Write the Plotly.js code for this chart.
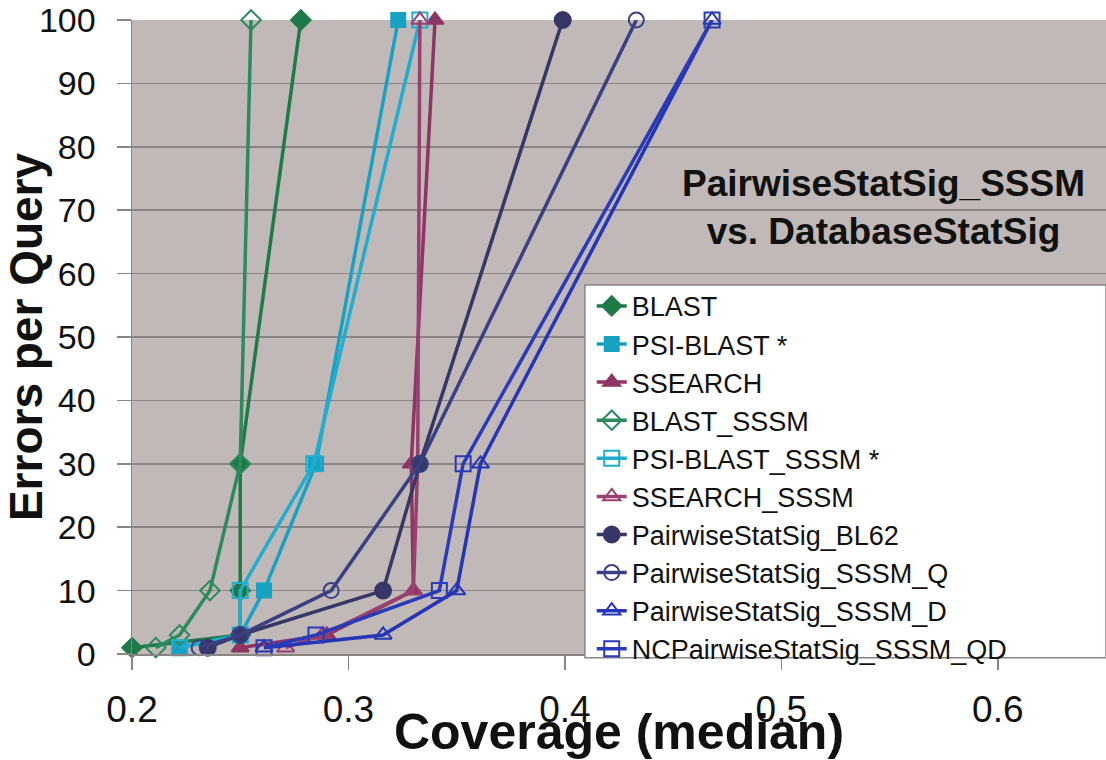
<!DOCTYPE html>
<html>
<head>
<meta charset="utf-8">
<script src="https://cdn.plot.ly/plotly-3.0.1.min.js"></script>
<style>
  html, body { margin: 0; padding: 0; background: #ffffff; }
  #chart { width: 1106px; height: 760px; }
</style>
</head>
<body>
<div id="chart"></div>
<script>
// Errors per query levels (y values shared by all series)
const errorsPerQuery = [1, 3, 10, 30, 100];

// Coverage (median) for each method, one value per error level
const blast            = [0.200, 0.250, 0.250, 0.250, 0.278];
const psiBlast         = [0.222, 0.250, 0.261, 0.285, 0.323];
const ssearch          = [0.250, 0.290, 0.330, 0.329, 0.340];
const blastSSSM        = [0.211, 0.222, 0.236, 0.250, 0.255];
const psiBlastSSSM     = [0.222, 0.250, 0.250, 0.284, 0.333];
const ssearchSSSM      = [0.271, 0.288, 0.330, 0.332, 0.333];
const pssBL62          = [0.235, 0.250, 0.316, 0.333, 0.399];
const pssSSSM_Q        = [0.231, 0.250, 0.292, 0.333, 0.433];
const pssSSSM_D        = [0.261, 0.316, 0.350, 0.361, 0.468];
const ncPssSSSM_QD     = [0.261, 0.285, 0.342, 0.353, 0.468];

const seriesNames = [
  "BLAST", "PSI-BLAST *", "SSEARCH", "BLAST_SSSM", "PSI-BLAST_SSSM *",
  "SSEARCH_SSSM", "PairwiseStatSig_BL62", "PairwiseStatSig_SSSM_Q",
  "PairwiseStatSig_SSSM_D", "NCPairwiseStatSig_SSSM_QD"
];

const xTickVals = [0.2, 0.3, 0.4, 0.5, 0.6];
const xTickText = ["0.2", "0.3", "0.4", "0.5", "0.6"];
const yTickVals = [0, 10, 20, 30, 40, 50, 60, 70, 80, 90, 100];
const yTickText = ["0", "10", "20", "30", "40", "50", "60", "70", "80", "90", "100"];

const chartTitle = "PairwiseStatSig_SSSM<br>vs. DatabaseStatSig";

const seriesData = [blast, psiBlast, ssearch, blastSSSM, psiBlastSSSM,
                    ssearchSSSM, pssBL62, pssSSSM_Q, pssSSSM_D, ncPssSSSM_QD];

const styles = [
  {color: "#1f7a4a", symbol: "diamond", size: 15},
  {color: "#17a2c4", symbol: "square", size: 14},
  {color: "#8e3563", symbol: "triangle-up", size: 15},
  {color: "#2b8a5e", symbol: "diamond-open", size: 15},
  {color: "#1fadd0", symbol: "square-open", size: 15},
  {color: "#9a4070", symbol: "triangle-up-open", size: 15},
  {color: "#363766", symbol: "circle", size: 16},
  {color: "#3b4082", symbol: "circle-open", size: 15},
  {color: "#2535b5", symbol: "triangle-up-open", size: 15},
  {color: "#2a3ab8", symbol: "square-open", size: 15}
];

const FONT = "Liberation Sans, Arial, sans-serif";

const traces = seriesData.map((xs, i) => ({
  type: "scatter",
  mode: "lines+markers",
  name: seriesNames[i],
  x: xs,
  y: errorsPerQuery,
  cliponaxis: false,
  line: {color: styles[i].color, width: 3.5},
  marker: {
    color: styles[i].color,
    symbol: styles[i].symbol,
    size: styles[i].size,
    line: {color: styles[i].color, width: 2}
  }
}));

const layout = {
  width: 1106,
  height: 760,
  margin: {l: 132, r: 0, t: 20, b: 106},
  paper_bgcolor: "#ffffff",
  plot_bgcolor: "#c0b9b7",
  font: {family: FONT, color: "#111111"},
  showlegend: true,
  legend: {
    x: 0.472, y: 0.587, xanchor: "left", yanchor: "top",
    bgcolor: "rgba(0,0,0,0)",
    borderwidth: 0,
    font: {family: FONT, size: 27, color: "#111111"},
    traceorder: "normal"
  },
  xaxis: {
    range: [0.2, 0.65],
    tickvals: xTickVals,
    ticktext: xTickText,
    ticks: "outside",
    ticklen: 14,
    tickwidth: 1.5,
    tickcolor: "#8a8484",
    ticklabelstandoff: 8,
    showgrid: false,
    zeroline: false,
    showline: true,
    linecolor: "#8a8484",
    linewidth: 1.5,
    tickfont: {family: FONT, size: 37, color: "#111111"},
    title: {
      text: "<b>Coverage (median)</b>",
      font: {family: FONT, size: 50, color: "#111111"},
      standoff: 0
    }
  },
  yaxis: {
    range: [0, 100],
    tickvals: yTickVals,
    ticktext: yTickText,
    ticks: "outside",
    ticklen: 14,
    tickwidth: 1.5,
    tickcolor: "#8a8484",
    ticklabelstandoff: 14,
    showgrid: true,
    gridcolor: "#8a8484",
    gridwidth: 1.5,
    zeroline: false,
    showline: true,
    linecolor: "#8a8484",
    linewidth: 1.5,
    tickfont: {family: FONT, size: 34, color: "#111111"},
    title: {
      text: "<b>Errors per Query</b>",
      font: {family: FONT, size: 46, color: "#111111"},
      standoff: 0
    }
  },
  shapes: [{
    type: "rect", xref: "paper", yref: "paper",
    x0: 0.465, x1: 1.0, y0: -0.006, y1: 0.582,
    fillcolor: "#ffffff",
    line: {color: "#8a8484", width: 1.5},
    layer: "above"
  }],
  annotations: [{
    xref: "paper", yref: "paper",
    x: 0.772, y: 0.705,
    xanchor: "center", yanchor: "middle",
    text: "<b>" + chartTitle + "</b>",
    showarrow: false,
    align: "center",
    font: {family: FONT, size: 37, color: "#111111"}
  }]
};

Plotly.newPlot("chart", traces, layout, {displayModeBar: false, staticPlot: true});
</script>
</body>
</html>
